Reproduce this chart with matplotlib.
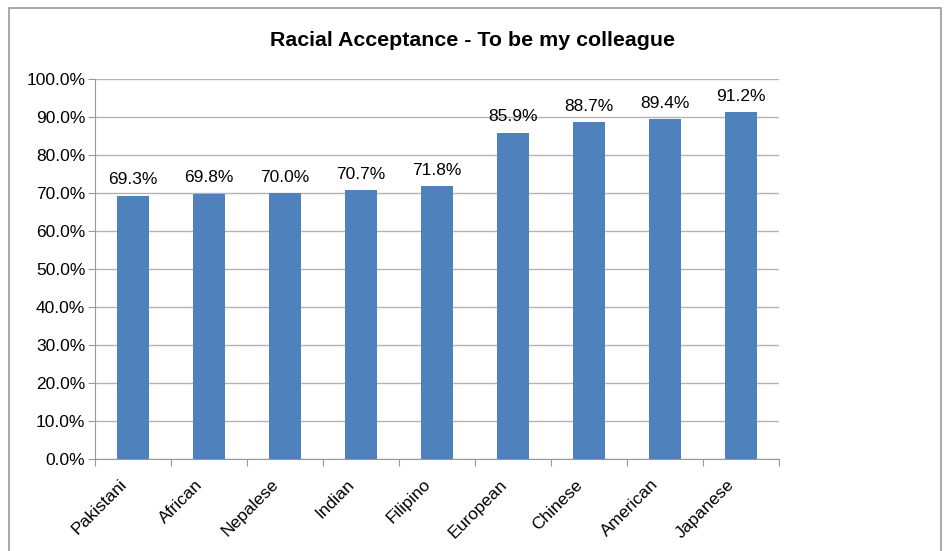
import matplotlib.pyplot as plt
from matplotlib.patches import Rectangle
from matplotlib.ticker import FuncFormatter
from matplotlib.transforms import ScaledTranslation

groups = ['Pakistani', 'African', 'Nepalese', 'Indian', 'Filipino',
          'European', 'Chinese', 'American', 'Japanese']
acceptance = [69.3, 69.8, 70.0, 70.7, 71.8, 85.9, 88.7, 89.4, 91.2]

plt.rcParams['font.family'] = ['Liberation Sans', 'DejaVu Sans']

fig = plt.figure(figsize=(9.44, 5.51), dpi=100)
ax = fig.add_axes([0.1006, 0.167, 0.7246, 0.6897])

x = range(len(groups))
bars = ax.bar(x, acceptance, width=0.41, color='#4F81BD', zorder=3)

for b, v in zip(bars, acceptance):
    ax.annotate(f'{v:.1f}%', (b.get_x() + b.get_width() / 2, v),
                xytext=(0, 6), textcoords='offset points',
                ha='center', va='bottom', fontsize=12.5)

ax.set_ylim(0, 100)
ax.set_xlim(-0.5, len(groups) - 0.5)
ax.set_yticks(range(0, 101, 10))
ax.yaxis.set_major_formatter(FuncFormatter(lambda v, p: f'{v:.1f}%'))
ax.grid(axis='y', color='#b3b3b3', linewidth=1, zorder=0)

# tick marks sit between the categories, labels under the bars
ax.set_xticks([i - 0.5 for i in range(len(groups) + 1)], minor=False)
ax.set_xticklabels([])
ax.set_xticks(list(x), minor=True)
ax.set_xticklabels(groups, minor=True, rotation=45, ha='right',
                   rotation_mode='anchor', fontsize=12.5)
ax.tick_params(axis='x', which='minor', length=0, pad=10)
ax.tick_params(axis='x', which='major', length=5, color='#999999')
ax.tick_params(axis='y', length=5, color='#999999', labelsize=12.5, pad=2)

shift = ScaledTranslation(-14 / 100, -4 / 100, fig.dpi_scale_trans)
for lbl in ax.get_xticklabels(minor=True):
    lbl.set_transform(lbl.get_transform() + shift)

for s in ['top', 'right']:
    ax.spines[s].set_visible(False)
for s in ['left', 'bottom']:
    ax.spines[s].set_color('#999999')

fig.text(0.501, 0.927, 'Racial Acceptance - To be my colleague',
         ha='center', va='center', fontsize=15.4, fontweight='bold')

fig.patches.append(Rectangle((9 / 944, -0.02), 932 / 944, 1 - 8 / 551 + 0.02,
                             transform=fig.transFigure, fill=False,
                             edgecolor='#999999', linewidth=1.2))

fig.savefig('out.png', dpi=100)
